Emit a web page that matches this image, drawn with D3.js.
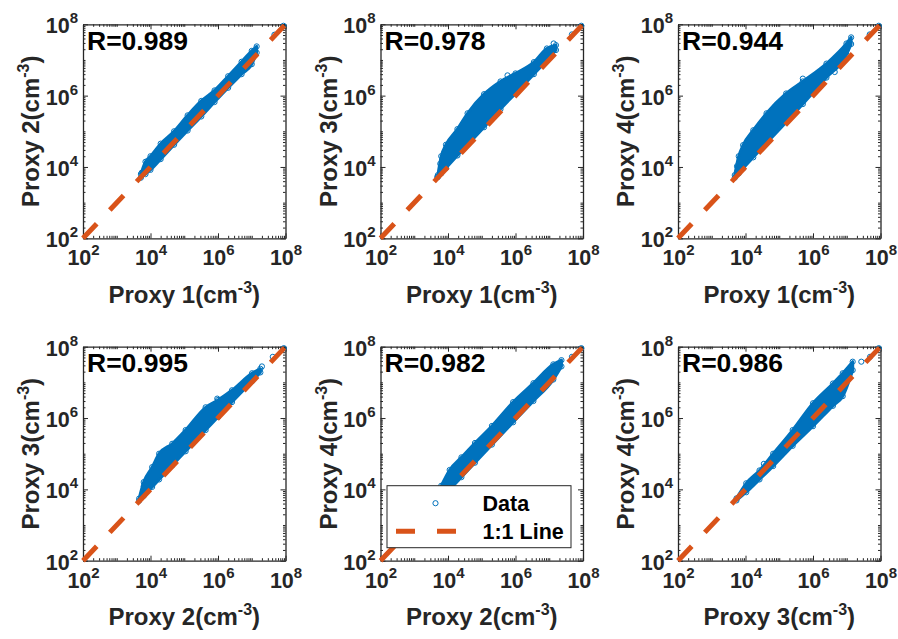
<!DOCTYPE html>
<html>
<head>
<meta charset="utf-8">
<script src="https://cdn.jsdelivr.net/npm/d3@7"></script>
<style>
  body { margin: 0; background: #fff; }
  svg { display: block; font-family: "Liberation Sans", Arial, sans-serif; font-weight: bold; }
</style>
</head>
<body>
<svg id="chart" width="898" height="639"></svg>
<script>
// ---------------- data (concentrations in cm^-3) ----------------
const rValues = [0.989, 0.978, 0.944, 0.995, 0.982, 0.986];
const xProxy  = [1, 1, 1, 2, 2, 3];
const yProxy  = [2, 3, 4, 3, 4, 4];
const axisDomain = [1e2, 1e8];
const majorTicks = [1e2, 1e4, 1e6, 1e8];
const tickExponents = ["2", "4", "6", "8"];
const oneToOne = [1e2, 1e8];

// Envelope of the dense point cloud in each panel (x, lower y, upper y)
const band1X  = [5.2e3, 7.1e3, 1.0e4, 2.0e4, 5.0e4, 1.26e5, 3.2e5, 7.9e5, 2.0e6, 5.0e6, 1.0e7, 1.4e7];
const band1Lo = [5.0e3, 6.3e3, 8.3e3, 1.66e4, 4.2e4, 1.05e5, 2.6e5, 6.6e5, 1.66e6, 4.0e6, 7.6e6, 1.6e7];
const band1Hi = [6.3e3, 1.4e4, 2.0e4, 4.5e4, 1.0e5, 2.8e5, 7.1e5, 1.4e6, 3.5e6, 8.9e6, 1.8e7, 2.4e7];

const band2X  = [5.0e3, 6.3e3, 8.7e3, 1.9e4, 3.8e4, 1.17e5, 3.6e5, 1.0e6, 3.5e6, 8.5e6, 1.58e7];
const band2Lo = [5.2e3, 6.6e3, 9.3e3, 2.1e4, 4.2e4, 1.3e5, 4.2e5, 1.15e6, 4.0e6, 9.8e6, 1.9e7];
const band2Hi = [5.9e3, 2.0e4, 4.2e4, 1.15e5, 3.2e5, 1.1e6, 2.5e6, 4.2e6, 8.7e6, 2.1e7, 2.6e7];

const band3X  = [4.8e3, 6.3e3, 8.5e3, 1.7e4, 4.2e4, 1.6e5, 5.0e5, 2.5e6, 9.8e6, 1.35e7];
const band3Lo = [5.0e3, 6.6e3, 9.1e3, 1.86e4, 4.7e4, 1.8e5, 5.8e5, 3.2e6, 1.4e7, 2.8e7];
const band3Hi = [5.9e3, 2.0e4, 4.1e4, 1.07e5, 3.2e5, 1.15e6, 2.5e6, 7.9e6, 2.9e7, 4.3e7];

const band4X  = [4.6e3, 6.3e3, 1.12e4, 1.8e4, 4.4e4, 1.1e5, 4.3e5, 1.0e6, 2.6e6, 1.02e7, 1.8e7];
const band4Lo = [4.8e3, 6.6e3, 1.17e4, 1.9e4, 4.7e4, 1.17e5, 4.6e5, 1.07e6, 2.8e6, 1.07e7, 1.9e7];
const band4Hi = [5.5e3, 1.6e4, 4.2e4, 1.0e5, 1.9e5, 4.6e5, 2.0e6, 3.2e6, 6.0e6, 1.8e7, 2.4e7];

const band5X  = [6.3e3, 1.12e4, 2.5e4, 6.3e4, 2.0e5, 8.5e5, 3.4e6, 1.32e7, 2.3e7];
const band5Lo = [5.8e3, 1.0e4, 2.2e4, 5.6e4, 1.8e5, 7.6e5, 3.0e6, 1.2e7, 2.8e7];
const band5Hi = [1.26e4, 3.5e4, 7.9e4, 2.0e5, 6.0e5, 2.8e6, 9.5e6, 3.2e7, 4.2e7];

const band6X  = [5.4e3, 1.05e4, 2.6e4, 6.6e4, 2.5e5, 1.0e6, 3.9e6, 7.6e6, 1.5e7];
const band6Lo = [4.9e3, 8.3e3, 1.9e4, 4.5e4, 1.66e5, 5.9e5, 2.2e6, 4.1e6, 2.2e7];
const band6Hi = [5.6e3, 1.48e4, 3.4e4, 1.0e5, 4.6e5, 2.6e6, 9.3e6, 1.8e7, 3.8e7];

// Isolated points outside the dense cloud
const out1X = [5.5e3, 7.1e6, 4.7e7, 8.7e7];
const out1Y = [6.9e3, 6.8e6, 5.1e7, 9.1e7];
const out2X = [4.8e3, 5.9e3, 5.8e5, 1.35e7, 4.7e7, 8.9e7];
const out2Y = [5.2e3, 1.23e4, 3.7e6, 2.9e7, 5.2e7, 9.1e7];
const out3X = [5.6e3, 5.0e5, 4.4e6, 6.2e6, 4.8e7, 8.9e7];
const out3Y = [1.05e4, 3.0e6, 4.6e6, 7.9e6, 5.2e7, 9.1e7];
const out4X = [6.3e3, 9.5e5, 2.0e7, 4.2e7, 8.9e7];
const out4Y = [1.23e4, 3.5e6, 2.8e7, 5.2e7, 9.1e7];
const out5X = [7.4e6, 4.7e7, 8.9e7];
const out5Y = [7.8e6, 5.2e7, 9.1e7];
const out6X = [3.5e4, 2.7e7, 4.9e7, 8.9e7];
const out6Y = [5.2e4, 3.8e7, 5.2e7, 9.1e7];

const legendLabels = ["Data", "1:1 Line"];

// ---------------- layout & style ----------------
const BLUE = "#0072BD", ORANGE = "#D95319", AXIS = "#262626";
const colLeft = [83, 380.5, 678];
const rowTop = [24.3, 346.7];
const pw = 202.5, ph = 214;

const bandXs  = [band1X, band2X, band3X, band4X, band5X, band6X];
const bandLos = [band1Lo, band2Lo, band3Lo, band4Lo, band5Lo, band6Lo];
const bandHis = [band1Hi, band2Hi, band3Hi, band4Hi, band5Hi, band6Hi];
const outXs = [out1X, out2X, out3X, out4X, out5X, out6X];
const outYs = [out1Y, out2Y, out3Y, out4Y, out5Y, out6Y];

const svg = d3.select("#chart");

// "10" followed by a raised exponent, optionally followed by more text
function supLabel(sel, base, sup, tail, supSize, rise) {
  sel.text(null);
  sel.append("tspan").text(base);
  sel.append("tspan").attr("dy", -rise).attr("font-size", supSize).text(sup);
  if (tail) sel.append("tspan").attr("dy", rise).text(tail);
}

rValues.forEach((r, i) => {
  const col = i % 3, row = Math.floor(i / 3);
  const g = svg.append("g").attr("transform", `translate(${colLeft[col]},${rowTop[row]})`);
  const x = d3.scaleLog().domain(axisDomain).range([0, pw]);
  const y = d3.scaleLog().domain(axisDomain).range([ph, 0]);
  const minor = x.ticks().filter(v => !majorTicks.includes(v));

  // axes: major + minor ticks on all four sides, pointing inward
  const sides = [
    [d3.axisBottom, x, `translate(0,${ph})`, true],
    [d3.axisTop, x, `translate(0,0)`, false],
    [d3.axisLeft, y, `translate(0,0)`, true],
    [d3.axisRight, y, `translate(${pw},0)`, false]
  ];
  sides.forEach(([fn, sc, tr, labelled]) => {
    g.append("g").attr("transform", tr)
      .call(fn(sc).tickValues(minor).tickSize(-2.5).tickSizeOuter(0).tickFormat(""))
      .call(s => s.select(".domain").remove())
      .call(s => s.selectAll("line").attr("stroke", AXIS));
    const ax = g.append("g").attr("transform", tr)
      .call(fn(sc).tickValues(majorTicks).tickSize(-5).tickSizeOuter(0).tickPadding(6));
    ax.select(".domain").attr("stroke", AXIS).attr("stroke-width", 1.3);
    ax.selectAll("line").attr("stroke", AXIS);
    ax.selectAll("text")
      .attr("font-family", "Liberation Sans, Arial, sans-serif")
      .attr("font-weight", "bold").attr("font-size", 21.5).attr("fill", AXIS);
    if (!labelled) {
      ax.selectAll("text").remove();
    } else if (fn === d3.axisBottom) {
      ax.selectAll("text").attr("dy", null).attr("y", 27)
        .each(function (d, k) { supLabel(d3.select(this), "10", tickExponents[k], null, 15, 10); });
    } else {
      ax.selectAll("text").attr("dy", null).attr("y", 8.5).attr("x", -5)
        .each(function (d, k) { supLabel(d3.select(this), "10", tickExponents[k], null, 15, 10); });
    }
  });

  // data
  const clipId = "clip" + i;
  g.append("clipPath").attr("id", clipId).append("rect").attr("width", pw).attr("height", ph);
  const data = g.append("g").attr("clip-path", `url(#${clipId})`);
  const bx = bandXs[i], lo = bandLos[i], hi = bandHis[i];
  const rows = bx.map((v, j) => ({ x: v, lo: lo[j], hi: hi[j] }));
  data.append("path")
    .datum(rows)
    .attr("d", d3.area().x(d => x(d.x)).y0(d => y(d.lo)).y1(d => y(d.hi)).curve(d3.curveMonotoneX))
    .attr("fill", BLUE).attr("stroke", BLUE).attr("stroke-width", 3).attr("stroke-linejoin", "round");
  const edgePts = rows.map(d => [d.x, d.hi]).concat(rows.map(d => [d.x, d.lo]));
  data.selectAll("circle.edge").data(edgePts).join("circle")
    .attr("class", "edge")
    .attr("cx", d => x(d[0])).attr("cy", d => y(d[1])).attr("r", 2.6)
    .attr("fill", "none").attr("stroke", BLUE).attr("stroke-width", 1);
  const ox = outXs[i], oy = outYs[i];
  g.selectAll("circle.out").data(ox.map((v, j) => [v, oy[j]])).join("circle")
    .attr("class", "out")
    .attr("cx", d => x(d[0])).attr("cy", d => y(d[1])).attr("r", 2.6)
    .attr("fill", "none").attr("stroke", BLUE).attr("stroke-width", 1);

  // 1:1 line
  g.append("line")
    .attr("x1", x(oneToOne[0])).attr("y1", y(oneToOne[0]))
    .attr("x2", x(oneToOne[1])).attr("y2", y(oneToOne[1]))
    .attr("stroke", ORANGE).attr("stroke-width", 5).attr("stroke-dasharray", "20 19");

  // correlation label
  g.append("text").attr("x", 4).attr("y", 25.5)
    .attr("font-size", 26.5).attr("fill", "#000").text("R=" + r.toFixed(3));

  // axis titles
  g.append("text").attr("x", pw / 2).attr("y", ph + 64.5).attr("text-anchor", "middle")
    .attr("font-size", 24).attr("fill", AXIS)
    .call(s => supLabel(s, `Proxy ${xProxy[i]}(cm`, "-3", ")", 16, 10));
  g.append("text").attr("transform", `translate(-44,${ph / 2}) rotate(-90)`)
    .attr("text-anchor", "middle").attr("font-size", 24).attr("fill", AXIS)
    .call(s => supLabel(s, `Proxy ${yProxy[i]}(cm`, "-3", ")", 16, 10));

  // legend in the middle bottom panel
  if (i === 4) {
    const lw = 184, lh = 62;
    const lg = g.append("g").attr("transform", `translate(${pw - 12 - lw},${ph - 13 - lh})`);
    lg.append("rect").attr("width", lw).attr("height", lh)
      .attr("fill", "#fff").attr("stroke", AXIS).attr("stroke-width", 1);
    lg.append("circle").attr("cx", 48.5).attr("cy", 17.5).attr("r", 2.6)
      .attr("fill", "none").attr("stroke", BLUE).attr("stroke-width", 1);
    lg.append("line").attr("x1", 9).attr("x2", 70).attr("y1", 45.5).attr("y2", 45.5)
      .attr("stroke", ORANGE).attr("stroke-width", 5).attr("stroke-dasharray", "19 22");
    lg.selectAll("text.lab").data(legendLabels).join("text")
      .attr("class", "lab").attr("x", 95.5).attr("y", (d, k) => 25 + k * 28)
      .attr("font-size", 21.5).attr("fill", "#000").text(d => d);
  }
});
</script>
</body>
</html>
